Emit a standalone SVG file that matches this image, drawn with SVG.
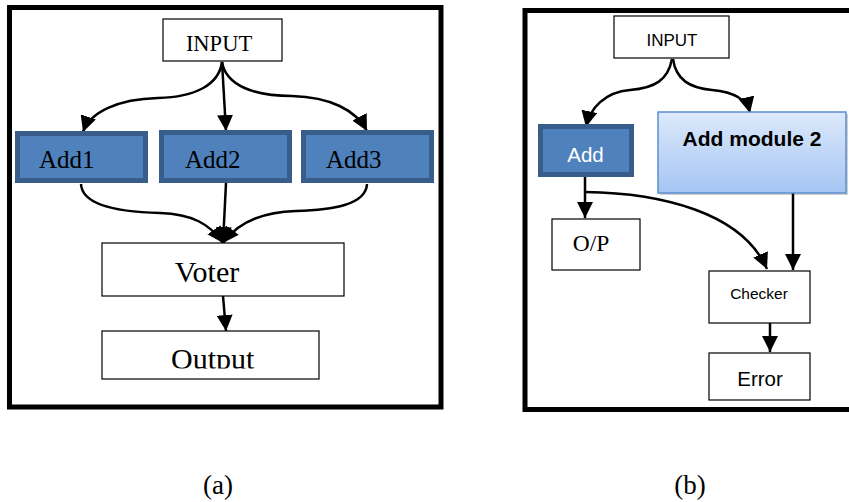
<svg xmlns="http://www.w3.org/2000/svg" width="849" height="502" viewBox="0 0 849 502">
<style>
.frame{fill:none;stroke:#000;stroke-width:5}
.box{fill:#fff;stroke:#000;stroke-width:1.2}
.blue{fill:#4f81bd;stroke:#385d8a;stroke-width:5}
.line{fill:none;stroke:#000;stroke-width:2.5}
.serif{font-family:"Liberation Serif","Times New Roman",serif;fill:#000}
.sans{font-family:"Liberation Sans",Arial,sans-serif;fill:#000}
</style>
<defs>
<marker id="ah" viewBox="0 0 10 10" refX="10" refY="5" markerWidth="6.4" markerHeight="6.4" markerUnits="strokeWidth" orient="auto">
<path d="M0,0 L10,5 L0,10 Z" fill="#000"/>
</marker>
<linearGradient id="g2" x1="0" y1="0" x2="0" y2="1">
<stop offset="0" stop-color="#dde9fb"/>
<stop offset="1" stop-color="#a5c5f3"/>
</linearGradient>
<clipPath id="clipOut"><rect x="100" y="320" width="230" height="48.5"/></clipPath>
</defs>
<rect width="849" height="502" fill="#fff"/>

<g id="panel-a">
<rect class="frame" x="9.5" y="7.5" width="431.5" height="399.5"/>
</g>
<g id="panel-b">
<rect class="frame" x="525" y="10.5" width="330" height="399"/>
</g>

<g id="connectors">
<path class="line" marker-end="url(#ah)" d="M222,62 C219,85 195,97 158,98 C118,99 90,112 83,132"/>
<path class="line" marker-end="url(#ah)" d="M222,62 L226,131"/>
<path class="line" marker-end="url(#ah)" d="M222,62 C226,86 255,96 292,96 C330,97 356,110 367,131"/>
<path class="line" marker-end="url(#ah)" d="M81,184 C82,205 118,212 160,213 C192,214 210,224 223,243"/>
<path class="line" marker-end="url(#ah)" d="M226,183 L223,243"/>
<path class="line" marker-end="url(#ah)" d="M367,184 C366,205 332,210 296,211 C262,212 238,222 223,243"/>
<path class="line" marker-end="url(#ah)" d="M223,296 L226,331"/>

<path class="line" marker-end="url(#ah)" d="M672,59 C668,80 655,88 630,90 C605,92 590,108 586,127"/>
<path class="line" marker-end="url(#ah)" d="M673,59 C676,80 690,88 712,90 C735,92 747,100 750,113"/>
<path class="line" marker-end="url(#ah)" d="M585,177 L585,218"/>
<path class="line" marker-end="url(#ah)" d="M585,192 C660,193 742,212 767,269"/>
<path class="line" marker-end="url(#ah)" d="M793,193 L793,270"/>
<path class="line" marker-end="url(#ah)" d="M770,323 L770,352"/>
</g>

<g id="input-a">
<rect class="box" x="163" y="19" width="119" height="42"/>
<text class="serif" x="219" y="51" font-size="22.5" text-anchor="middle">INPUT</text>
</g>
<g id="add1">
<rect class="blue" x="17.5" y="133.5" width="128" height="47"/>
<text class="serif" x="39" y="168" font-size="25">Add1</text>
</g>
<g id="add2">
<rect class="blue" x="161.5" y="132.5" width="128" height="48"/>
<text class="serif" x="185" y="168" font-size="25">Add2</text>
</g>
<g id="add3">
<rect class="blue" x="303.5" y="132.5" width="128" height="48"/>
<text class="serif" x="326" y="168" font-size="25">Add3</text>
</g>
<g id="voter">
<rect class="box" x="102" y="243" width="242" height="53"/>
<text class="serif" x="207" y="282" font-size="30" text-anchor="middle">Voter</text>
</g>
<g id="output">
<rect class="box" x="102" y="331" width="217" height="48"/>
<text class="serif" x="171" y="369" font-size="30" clip-path="url(#clipOut)">Output</text>
</g>

<g id="input-b">
<rect class="box" x="614" y="16" width="115" height="42"/>
<text class="sans" x="672" y="45.5" font-size="17" text-anchor="middle">INPUT</text>
</g>
<g id="add">
<rect class="blue" x="540.5" y="126.5" width="91" height="48"/>
<text class="sans" x="585.5" y="162" font-size="20.5" text-anchor="middle" style="fill:#fff">Add</text>
</g>
<g id="add-module-2">
<rect x="660" y="114" width="188" height="81" fill="#000" opacity="0.18"/>
<rect x="658" y="112" width="188" height="81" fill="url(#g2)" stroke="#5b8fd0" stroke-width="1.5"/>
<text class="sans" x="752" y="145.5" font-size="21" font-weight="bold" text-anchor="middle">Add module 2</text>
</g>
<g id="op">
<rect class="box" x="552" y="219" width="88" height="51"/>
<text class="serif" x="591" y="251" font-size="23.5" text-anchor="middle">O/P</text>
</g>
<g id="checker">
<rect class="box" x="709" y="271" width="101" height="52"/>
<text class="sans" x="759" y="299" font-size="15.5" text-anchor="middle">Checker</text>
</g>
<g id="error">
<rect class="box" x="709" y="353" width="101" height="47"/>
<text class="sans" x="760" y="386" font-size="20.5" text-anchor="middle">Error</text>
</g>

<g id="captions">
<text class="serif" x="218" y="494" font-size="27" text-anchor="middle">(a)</text>
<text class="serif" x="690" y="494" font-size="27" text-anchor="middle">(b)</text>
</g>
</svg>
